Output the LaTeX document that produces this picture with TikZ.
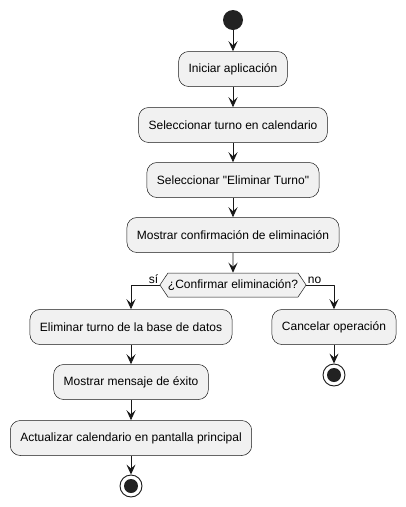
\documentclass[tikz,border=0pt]{standalone}
\usepackage{fontspec}
\setmainfont{Liberation Sans}[Ligatures=TeXOff]
\usetikzlibrary{arrows.meta,shapes.symbols}
\definecolor{boxfill}{HTML}{F1F1F1}
\definecolor{boxline}{HTML}{181818}
\definecolor{dot}{HTML}{222222}
\begin{document}
\begin{tikzpicture}[x=1pt,y=-1pt,line join=round,font=\fontsize{12}{14}\selectfont,
    act/.style={draw=boxline,fill=boxfill,rounded corners=10pt,minimum height=35pt,inner xsep=10pt,line width=.5pt},
    choice/.style={draw=boxline,fill=boxfill,shape=signal,signal to=west and east,signal pointer angle=112,minimum height=24pt,inner xsep=0pt,inner ysep=0pt,line width=.5pt},
    flow/.style={-{Stealth[length=10pt,width=9pt,inset=4pt]},draw=boxline,line width=.9pt},
    startdot/.style={circle,fill=dot,minimum size=20pt,inner sep=0pt},
    enddot/.style={circle,draw=boxline,fill=white,line width=.9pt,minimum size=22pt,inner sep=0pt}]
    \useasboundingbox (0,0) rectangle (406,507);
    % nodos
    \node[startdot] (ini) at (233,20) {};
    \node[act] (app) at (233,69) {Iniciar aplicación};
    \node[act] (sel) at (233,125) {Seleccionar turno en calendario};
    \node[act] (elig) at (233,180) {Seleccionar "Eliminar Turno"};
    \node[act] (conf) at (233,235) {Mostrar confirmación de eliminación};
    \node[choice] (dec) at (233,285) {¿Confirmar eliminación?};
    \node[act] (borrar) at (131,327) {Eliminar turno de la base de datos};
    \node[act] (cancel) at (334,327) {Cancelar operación};
    \node[act] (exito) at (131,382) {Mostrar mensaje de éxito};
    \node[act] (actual) at (131,438) {Actualizar calendario en pantalla principal};
    \node[enddot] (fin) at (131,486) {};
    \node[enddot] (fincan) at (334,375) {};
    \fill[dot] (fin.center) circle(7pt) (fincan.center) circle(7pt);
    % flechas
    \draw[flow] (ini) -- (app);
    \draw[flow] (app) -- (sel);
    \draw[flow] (sel) -- (elig);
    \draw[flow] (elig) -- (conf);
    \draw[flow] (conf) -- (dec);
    \draw[flow] (dec.west) node[above left,inner sep=1pt]{sí} -| (borrar.north);
    \draw[flow] (dec.east) node[above right,inner sep=1pt]{no} -| (cancel.north);
    \draw[flow] (borrar) -- (exito);
    \draw[flow] (exito) -- (actual);
    \draw[flow] (actual) -- (fin);
    \draw[flow] (cancel) -- (fincan);
\end{tikzpicture}
\end{document}
